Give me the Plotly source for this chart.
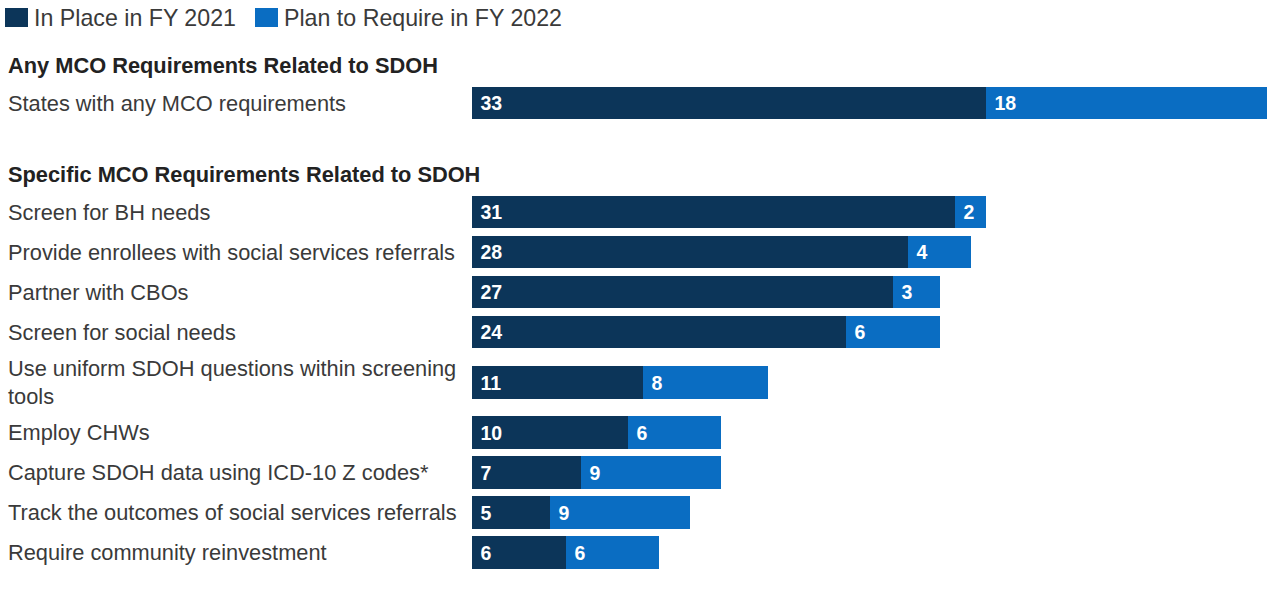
import plotly.graph_objects as go

# ---- data ----
legend_names = ["In Place in FY 2021", "Plan to Require in FY 2022"]
section_titles = ["Any MCO Requirements Related to SDOH",
                  "Specific MCO Requirements Related to SDOH"]
section_a_labels = ["States with any MCO requirements"]
section_a_in_place = [33]
section_a_plan = [18]
section_b_labels = [
    "Screen for BH needs",
    "Provide enrollees with social services referrals",
    "Partner with CBOs",
    "Screen for social needs",
    "Use uniform SDOH questions within screening<br>tools",
    "Employ CHWs",
    "Capture SDOH data using ICD-10 Z codes*",
    "Track the outcomes of social services referrals",
    "Require community reinvestment",
]
section_b_in_place = [31, 28, 27, 24, 11, 10, 7, 5, 6]
section_b_plan = [2, 4, 3, 6, 8, 6, 9, 9, 6]

# ---- style ----
DARK = "#0C3559"
BLUE = "#0A6DC2"
LABEL_COLOR = "#3a3a3a"
FONT = "Liberation Sans, Arial, sans-serif"
W, H = 1276, 602
ROW = 40.0  # px per row unit

# ---- compute row layout (in row units) ----
sections = [
    (section_titles[0], section_a_labels, section_a_in_place, section_a_plan),
    (section_titles[1], section_b_labels, section_b_in_place, section_b_plan),
]
HEADER_TO_BAR = 0.95
BAR_TO_HEADER = 1.775
EXTRA_LINE = 0.26

header_pos = []
labels, in_place, plan, ypos = [], [], [], []
cur = 0.0
prev_lines = None
for si, (title, labs, a, b) in enumerate(sections):
    if si > 0:
        cur += BAR_TO_HEADER
    header_pos.append((title, cur))
    prev_lines = None
    for k, lab in enumerate(labs):
        nl = lab.count("<br>")
        if prev_lines is None:
            cur += HEADER_TO_BAR
        else:
            cur += 1.0 + EXTRA_LINE * (prev_lines + nl)
        prev_lines = nl
        labels.append(lab)
        in_place.append(a[k])
        plan.append(b[k])
        ypos.append(cur)

first_px = 65.0
y_top = -first_px / ROW
y_bot = (H - first_px) / ROW

fig = go.Figure()
fig.add_trace(go.Bar(
    y=ypos, x=in_place, orientation="h", name=legend_names[0],
    marker=dict(color=DARK, line=dict(width=0)), width=0.82,
    text=["\u00a0" + str(v) for v in in_place], textposition="inside",
    insidetextanchor="start", textangle=0,
    textfont=dict(color="white", size=19.5, family=FONT, weight="bold"),
    showlegend=False, hoverinfo="skip",
))
fig.add_trace(go.Bar(
    y=ypos, x=plan, orientation="h", name=legend_names[1],
    marker=dict(color=BLUE, line=dict(width=0)), width=0.82,
    text=["\u00a0" + str(v) for v in plan], textposition="inside",
    insidetextanchor="start", textangle=0,
    textfont=dict(color="white", size=19.5, family=FONT, weight="bold"),
    showlegend=False, hoverinfo="skip",
))

annotations = []
for lab, y in zip(labels, ypos):
    annotations.append(dict(
        x=6 / W, xref="paper", y=y, yref="y", text=lab, showarrow=False,
        xanchor="left", yanchor="middle", align="left",
        font=dict(size=21.8, color=LABEL_COLOR, family=FONT),
    ))
for title, y in header_pos:
    annotations.append(dict(
        x=6 / W, xref="paper", y=y, yref="y", text="<b>" + title + "</b>",
        showarrow=False, xanchor="left", yanchor="middle", align="left",
        font=dict(size=21.8, color="#222222", family=FONT),
    ))

# legend drawn as swatches + text
shapes = []
leg_x = [5, 255]
for i, (name, col) in enumerate(zip(legend_names, [DARK, BLUE])):
    x0 = leg_x[i]
    shapes.append(dict(type="rect", xref="paper", yref="paper",
                       x0=x0 / W, x1=(x0 + 23) / W,
                       y0=1 - 27 / H, y1=1 - 8 / H,
                       fillcolor=col, line=dict(width=0)))
    annotations.append(dict(
        x=(x0 + 27) / W, xref="paper", y=1 - 17.5 / H, yref="paper",
        text=name, showarrow=False, xanchor="left", yanchor="middle",
        font=dict(size=23.2, color=LABEL_COLOR, family=FONT),
    ))

fig.update_layout(
    width=W, height=H, barmode="stack",
    margin=dict(l=0, r=0, t=0, b=0),
    paper_bgcolor="white", plot_bgcolor="white",
    xaxis=dict(domain=[472 / W, 1267 / W], range=[0, 51], visible=False,
               fixedrange=True),
    yaxis=dict(domain=[0, 1], range=[y_bot, y_top], visible=False,
               fixedrange=True),
    annotations=annotations, shapes=shapes,
    bargap=0, showlegend=False,
    font=dict(family=FONT),
)

fig.write_html("out.html", config={"displayModeBar": False})
